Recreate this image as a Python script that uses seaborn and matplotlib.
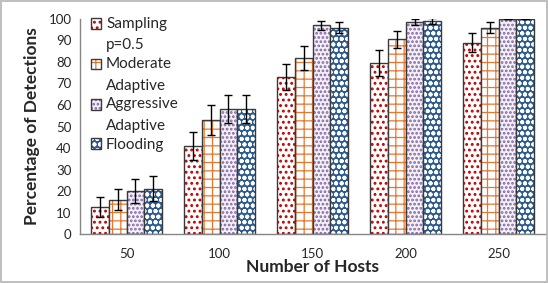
import matplotlib
matplotlib.use("Agg")
import matplotlib.pyplot as plt
import seaborn as sns
import pandas as pd
from matplotlib.colors import to_rgba
from matplotlib.legend_handler import HandlerPatch
from matplotlib.patches import Rectangle

hosts = ["50", "100", "150", "200", "250"]
methods = ["Sampling\np=0.5", "Moderate\nAdaptive", "Aggressive\nAdaptive", "Flooding"]
sampling = [12.5, 41, 73, 79.5, 89]
moderate = [16, 53, 82, 90.5, 96]
aggressive = [20, 58, 97, 98.5, 100]
flooding = [21, 58, 96, 99, 100]
err_sampling = [4.5, 6.5, 6, 6, 4.5]
err_moderate = [5, 7, 5.5, 4, 2.5]
err_aggressive = [5.5, 6.5, 2, 1.5, 0]
err_flooding = [5.8, 6.5, 2.5, 1.5, 0]

values = [sampling, moderate, aggressive, flooding]
errors = [err_sampling, err_moderate, err_aggressive, err_flooding]

rows = []
for m, vals in zip(methods, values):
    for h, v in zip(hosts, vals):
        rows.append({"hosts": h, "method": m, "pct": v})
df = pd.DataFrame(rows)

# face, hatch colour, hatch, hatch width
styles = [
    ("white", "#c00000", "...", 1.3),
    ("white", "#e8772e", "++", 0.9),
    ("#f4f0f8", "#8064a2", "....", 1.3),
    ("#2c5b8f", "white", "ooo", 1.3),
]


def style_patch(p, face, hc, hatch, hw):
    p.set_facecolor(face)
    p.set_edgecolor("#3a3a3a")
    p.set_hatch(hatch)
    p._hatch_color = to_rgba(hc)
    if hasattr(p, "set_hatch_linewidth"):
        p.set_hatch_linewidth(hw)


class TopHandler(HandlerPatch):
    # put the square next to the first line of a two line label
    def __init__(self, shift):
        super().__init__()
        self.shift = shift

    def create_artists(self, legend, orig_handle, xdescent, ydescent,
                       width, height, fontsize, trans):
        p = Rectangle((-xdescent, -ydescent + self.shift * fontsize), width, height)
        self.update_prop(p, orig_handle, legend)
        p.set_transform(trans)
        return [p]


sns.set_style("white")
plt.rcParams["font.family"] = ["Lato", "DejaVu Sans"]
plt.rcParams["hatch.linewidth"] = 1.3

fig = plt.figure(figsize=(5.48, 2.83), dpi=100, edgecolor="#bfbfbf", linewidth=1.5)
ax = fig.add_axes([0.146, 0.173, 0.849, 0.76])

sns.barplot(data=df, x="hosts", y="pct", hue="method", order=hosts,
            hue_order=methods, width=0.76, ax=ax, errorbar=None)

for cont, st, errs in zip(ax.containers, styles, errors):
    xs = []
    ys = []
    for p in cont.patches:
        style_patch(p, *st)
        p.set_linewidth(1.0)
        xs.append(p.get_x() + p.get_width() / 2)
        ys.append(p.get_height())
    ax.errorbar(xs, ys, yerr=errs, fmt="none", ecolor="black",
                elinewidth=1.0, capsize=3, capthick=1.0)

handles, labels = ax.get_legend_handles_labels()
hmap = {h: TopHandler(0.72 if "\n" in l else 0.0) for h, l in zip(handles, labels)}
leg = ax.legend(handles, labels, handler_map=hmap, loc="upper left",
                bbox_to_anchor=(0.0, 1.06), frameon=False,
                fontsize=11, handlelength=0.7, handleheight=0.7,
                handletextpad=0.3, labelspacing=0.3, borderaxespad=0.3)
for t in leg.get_texts():
    t.set_linespacing(1.7)
for h, st in zip(leg.legend_handles, styles):
    style_patch(h, *st)

ax.set_ylim(0, 100)
ax.set_yticks(range(0, 101, 10))
ax.set_xlim(-0.5, 4.5)
ax.set_xticks([-0.5, 0.5, 1.5, 2.5, 3.5, 4.5], minor=True)
ax.tick_params(axis="x", which="minor", length=4, color="#868686", direction="out")
ax.tick_params(axis="x", which="major", length=0, labelsize=9.5, pad=10)
ax.tick_params(axis="y", length=4, color="#868686", direction="out", labelsize=9.5, pad=2)

for s in ["top", "right"]:
    ax.spines[s].set_visible(False)
for s in ["left", "bottom"]:
    ax.spines[s].set_color("#868686")
    ax.spines[s].set_linewidth(1.0)

ax.set_xlabel("Number of Hosts", fontsize=12.5, fontweight="bold", labelpad=-1)
ax.set_ylabel("Percentage of Detections", fontsize=12.5, fontweight="bold", labelpad=6)

fig.savefig("out.png", dpi=100)
